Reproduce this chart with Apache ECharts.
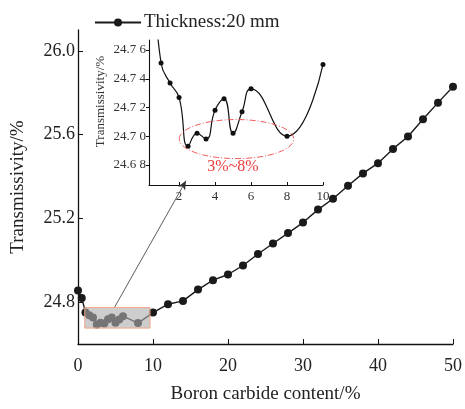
<!DOCTYPE html>
<html>
<head>
<meta charset="utf-8">
<script src="https://cdn.jsdelivr.net/npm/echarts@6/dist/echarts.min.js"></script>
<style>html,body{margin:0;padding:0;background:#fff;}#c{width:465px;height:409px;}</style>
</head>
<body>
<div id="c"></div>
<script>
// ---- data ----
var contentX = [0,0.5,1,1.5,2,2.5,3,3.5,4,4.5,5,5.5,6,8,10,12,14,16,18,20,22,24,26,28,30,32,34,36,38,40,42,44,46,48,50];
var transmissivity = [24.855,24.82,24.751,24.737,24.727,24.693,24.702,24.698,24.718,24.726,24.702,24.717,24.733,24.700,24.750,24.79,24.806,24.86,24.905,24.932,24.975,25.03,25.08,25.13,25.18,25.242,25.294,25.356,25.415,25.464,25.532,25.591,25.674,25.753,25.829];
var seriesName = 'Thickness:20 mm';
var mainYTicks = [24.8,25.2,25.6,26.0];
var mainXTicks = [0,10,20,30,40,50];
var insetXTicks = [2,4,6,8,10];
var insetYTicks = [24.68,24.70,24.72,24.74,24.76];
var zoomBox = [0.9, 24.774, 9.6, 24.676];
var arrowFrom = [4.85, 24.774];
var arrowTo = [14.4, 25.38];
var ellipseSpec = [5.19, 24.698, 3.18, 0.0136];
var rangeLabel = '3%~8%';
var rangeLabelPos = [5.0, 24.679];

var FONT = "'Liberation Serif','Times New Roman',serif";
var pairs = contentX.map(function(x,i){return [x, transmissivity[i]];});
var insetPairs = pairs.filter(function(p){return p[0] <= 10;});

var chart = echarts.init(document.getElementById('c'), null, {renderer:'canvas'});
chart.setOption({
  animation:false,
  backgroundColor:'#fff',
  legend:{
    data:[seriesName], left:89, top:8, itemWidth:46, itemHeight:10, itemGap:4,
    textStyle:{fontFamily:FONT, fontSize:19, color:'#222', padding:[0,0,0,-2]}
  },
  grid:[
    {left:78, right:8, top:30, bottom:52},
    {left:149, top:40, width:174, height:145}
  ],
  xAxis:[
    {gridIndex:0, type:'value', min:0, max:50, interval:10,
     name:'Boron carbide content/%', nameLocation:'middle', nameGap:41,
     nameTextStyle:{fontFamily:FONT, fontSize:19, color:'#222'},
     axisLine:{lineStyle:{color:'#111', width:1.3}},
     axisTick:{inside:true, length:5, lineStyle:{color:'#111'}},
     axisLabel:{fontFamily:FONT, fontSize:18, color:'#222', margin:13},
     splitLine:{show:false}},
    {gridIndex:1, type:'value', min:0.33, max:10,
     axisLine:{lineStyle:{color:'#111', width:1.1}},
     axisTick:{inside:true, length:3, customValues:insetXTicks, lineStyle:{color:'#111'}},
     axisLabel:{fontFamily:FONT, fontSize:13, color:'#333', margin:5, customValues:insetXTicks},
     splitLine:{show:false}}
  ],
  yAxis:[
    {gridIndex:0, type:'value', min:24.6, max:26.1,
     name:'Transmissivity/%', nameLocation:'middle', nameGap:50,
     nameTextStyle:{fontFamily:FONT, fontSize:19, color:'#222'},
     axisLine:{show:true, lineStyle:{color:'#111', width:1.3}},
     axisTick:{show:true, inside:true, length:5, customValues:mainYTicks, lineStyle:{color:'#111'}},
     axisLabel:{fontFamily:FONT, fontSize:18, color:'#222', margin:3, customValues:mainYTicks,
       formatter:function(v){return v.toFixed(1);}},
     splitLine:{show:false}},
    {gridIndex:1, type:'value', min:24.666, max:24.767,
     name:'Transmissivity/%', nameLocation:'middle', nameGap:42,
     nameTextStyle:{fontFamily:FONT, fontSize:13, color:'#333', padding:[0,0,0,22]},
     axisLine:{show:true, lineStyle:{color:'#111', width:1.1}},
     axisTick:{show:true, inside:false, length:3, customValues:insetYTicks, lineStyle:{color:'#111'}},
     axisLabel:{fontFamily:FONT, fontSize:13, color:'#333', margin:3, customValues:insetYTicks,
       formatter:function(v){var s=v.toFixed(2); return s.slice(0,-1)+' '+s.slice(-1);}},
     splitLine:{show:false}}
  ],
  series:[
    {name:seriesName, type:'line', xAxisIndex:0, yAxisIndex:0, data:pairs, z:2,
     symbol:'circle', symbolSize:8, showAllSymbol:true,
     lineStyle:{color:'#1a1a1a', width:1.4}, itemStyle:{color:'#1a1a1a'}},
    {type:'custom', xAxisIndex:0, yAxisIndex:0, z:5, silent:true, data:[zoomBox],
     renderItem:function(params, api){
       var p1 = api.coord([api.value(0), api.value(1)]);
       var p2 = api.coord([api.value(2), api.value(3)]);
       return {type:'rect', shape:{x:p1[0], y:p1[1], width:p2[0]-p1[0], height:p2[1]-p1[1]},
         style:{fill:'rgba(175,175,175,0.62)', stroke:'#f2a488', lineWidth:1}};
     },
     markLine:{silent:true, symbol:['none','arrow'], symbolSize:[6,9],
       label:{show:false}, lineStyle:{color:'#333', width:0.8, type:'solid'},
       data:[[{coord:arrowFrom},{coord:arrowTo}]]}},
    {type:'line', xAxisIndex:1, yAxisIndex:1, data:insetPairs, smooth:0.5, clip:true,
     symbol:'circle', symbolSize:5, showAllSymbol:true,
     lineStyle:{color:'#111', width:1.2}, itemStyle:{color:'#111'}},
    {type:'custom', xAxisIndex:1, yAxisIndex:1, z:6, silent:true, clip:false, data:[ellipseSpec],
     renderItem:function(params, api){
       var c = api.coord([api.value(0), api.value(1)]);
       var s = api.size([api.value(2), api.value(3)]);
       var t = api.coord(rangeLabelPos);
       return {type:'group', children:[
         {type:'ellipse', shape:{cx:c[0], cy:c[1], rx:s[0], ry:s[1]},
          style:{fill:'none', stroke:'#ec4a4a', lineWidth:0.9, lineDash:[6,2,1,2]}},
         {type:'text', x:t[0], y:t[1], style:{text:rangeLabel, fill:'#ec3b3b', font:'16px '+FONT,
          textAlign:'center', textVerticalAlign:'middle'}}
       ]};
     }}
  ]
});
</script>
</body>
</html>
